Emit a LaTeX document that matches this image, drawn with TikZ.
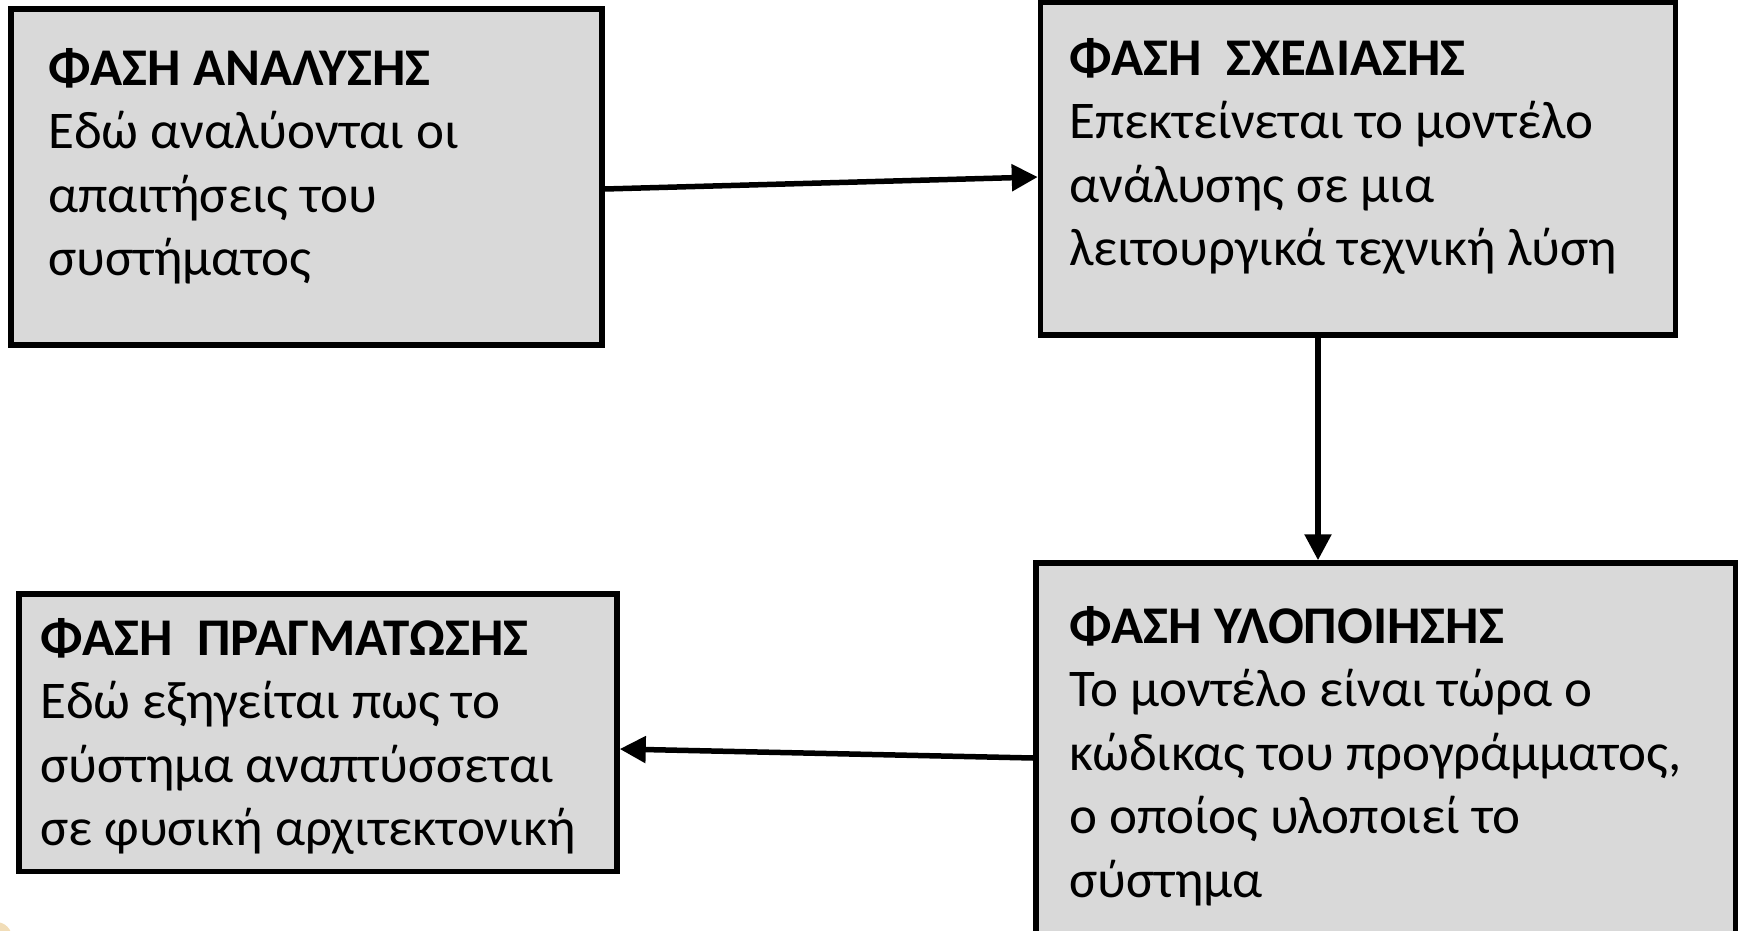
\documentclass[tikz,border=0pt]{standalone}
\usepackage{fontspec}
\setmainfont{Carlito}
\usetikzlibrary{arrows.meta,calc}
\begin{document}
\begin{tikzpicture}[x=1pt,y=-1pt,
  phasebox/.style={draw=black,line width=5.5pt,fill=boxgray,rectangle,inner sep=0pt,anchor=center},
  phasetext/.style={anchor=base west,inner sep=0pt,font=\fontsize{53}{63.5}\selectfont},
  flow/.style={line width=5.5pt,-{Triangle[length=26pt,width=26pt]}}]
\definecolor{boxgray}{HTML}{D9D9D9}
\definecolor{cornertan}{HTML}{E6C27E}
\useasboundingbox (0,0) rectangle (1741,931);
\clip (0,0) rectangle (1741,931);
\fill[white] (0,0) rectangle (1741,931);

% small emblem fragment in the lower left corner
\fill[cornertan,opacity=0.55] (-4,938) circle (16pt);

% the four phase boxes (border centre lines)
\node[phasebox,minimum width=591pt,minimum height=336pt] (b1) at (306.5,177) {};
\node[phasebox,minimum width=635pt,minimum height=333pt] (b2) at (1358,168.5) {};
\node[phasebox,minimum width=598pt,minimum height=277.5pt] (b3) at (318,732.75) {};
\node[phasebox,minimum width=699.5pt,minimum height=397pt] (b4) at (1385.75,761.5) {};

% texts, first baseline at the given point
\newcommand{\ptlines}[1]{\vtop{\baselineskip=63.5pt #1}}
\node[phasetext] (t1) at (48,85.5) {\ptlines{\hbox{\bfseries ΦΑΣΗ ΑΝΑΛΥΣΗΣ}\hbox{Εδώ αναλύονται οι}\hbox{απαιτήσεις του}\hbox{συστήματος}}};
\node[phasetext] (t2) at (1069,75.5) {\ptlines{\hbox{\bfseries ΦΑΣΗ\ \ ΣΧΕΔΙΑΣΗΣ}\hbox{Επεκτείνεται το μοντέλο}\hbox{ανάλυσης σε μια}\hbox{λειτουργικά τεχνική λύση}}};
\node[phasetext] (t3) at (40,655) {\ptlines{\hbox{\bfseries ΦΑΣΗ\ \ ΠΡΑΓΜΑΤΩΣΗΣ}\hbox{Εδώ εξηγείται πως το}\hbox{σύστημα αναπτύσσεται}\hbox{σε φυσική αρχιτεκτονική}}};
\node[phasetext] (t4) at (1069,643) {\ptlines{\hbox{\bfseries ΦΑΣΗ ΥΛΟΠΟΙΗΣΗΣ}\hbox{Το μοντέλο είναι τώρα ο}\hbox{κώδικας του προγράμματος,}\hbox{ο οποίος υλοποιεί το}\hbox{σύστημα}}};

% connectors
\draw[flow] ([yshift=-12pt]b1.east) -- ([yshift=-8.5pt]b2.west);
\draw[flow] ([xshift=-40pt,yshift=5pt]b2.south) -- ([xshift=-67.75pt]b4.north);
\draw[flow] ([yshift=3.5pt]b4.west) -- ([yshift=-16.25pt]b3.east);
\end{tikzpicture}
\end{document}
